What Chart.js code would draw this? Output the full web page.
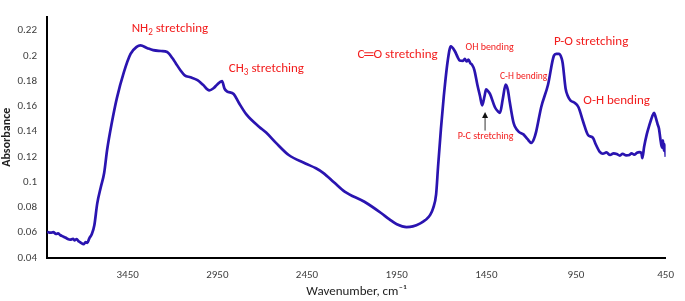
<!DOCTYPE html>
<html>
<head>
<meta charset="utf-8">
<script src="https://cdn.jsdelivr.net/npm/chart.js@4.4.1/dist/chart.umd.min.js"></script>
<style>
  html, body { margin: 0; padding: 0; background: #fff; }
  #wrap { width: 685px; height: 301px; }
</style>
</head>
<body>
<div id="wrap"><canvas id="myChart"></canvas></div>
<script>
// FTIR spectrum, values
const wavenumber = [
  3899, 3880, 3865, 3850, 3839, 3825, 3810, 3795, 3784, 3770, 3755, 3745, 3735, 3722, 3710, 3696,
  3685, 3675, 3664, 3650, 3636, 3620, 3600, 3581, 3565, 3538, 3510, 3472, 3434, 3400, 3379, 3340,
  3308, 3264, 3230, 3200, 3182, 3154, 3132, 3100, 3061, 3030, 2995, 2970, 2952, 2924, 2910, 2897,
  2859, 2831, 2787, 2716, 2678, 2623, 2552, 2459, 2400, 2360, 2300, 2240, 2130, 2037, 1990, 1949,
  1895, 1860, 1818, 1790, 1763, 1747, 1730, 1719, 1703, 1687, 1665, 1648, 1626, 1610, 1599, 1580,
  1570, 1560, 1550, 1539, 1530, 1517, 1500, 1485, 1473, 1460, 1451, 1440, 1429, 1402, 1385, 1374,
  1358, 1342, 1330, 1320, 1300, 1292, 1270, 1243, 1220, 1199, 1185, 1172, 1144, 1106, 1073, 1060,
  1046, 1030, 1024, 1008, 995, 980, 960, 936, 909, 882, 865, 854, 840, 816, 800, 780,
  760, 740, 723, 705, 690, 670, 652, 640, 625, 610, 597, 585, 580, 570, 555, 542,
  525, 515, 505, 495, 487, 480, 471, 465, 460, 455, 449
];
const absorbance = [
  0.0607, 0.0600, 0.0605, 0.0590, 0.0595, 0.0580, 0.0570, 0.0560, 0.0550, 0.0545, 0.0552, 0.0540, 0.0550, 0.0530, 0.0520, 0.0510,
  0.0525, 0.0520, 0.0556, 0.0590, 0.0659, 0.0830, 0.0960, 0.1074, 0.1252, 0.1474, 0.1667, 0.1867, 0.2015, 0.2070, 0.2082, 0.2060,
  0.2045, 0.2038, 0.2030, 0.1980, 0.1941, 0.1882, 0.1845, 0.1830, 0.1808, 0.1770, 0.1726, 0.1745, 0.1771, 0.1800, 0.1740, 0.1719,
  0.1697, 0.1630, 0.1534, 0.1437, 0.1393, 0.1311, 0.1215, 0.1148, 0.1110, 0.1074, 0.1000, 0.0926, 0.0845, 0.0756, 0.0705, 0.0667,
  0.0645, 0.0650, 0.0674, 0.0700, 0.0741, 0.0793, 0.0904, 0.1126, 0.1423, 0.1682, 0.1963, 0.2075, 0.2038, 0.1990, 0.1963, 0.1960,
  0.1975, 0.1955, 0.1970, 0.1941, 0.1930, 0.1889, 0.1771, 0.1680, 0.1608, 0.1680, 0.1734, 0.1720, 0.1697, 0.1593, 0.1560, 0.1549,
  0.1660, 0.1771, 0.1730, 0.1640, 0.1480, 0.1445, 0.1400, 0.1378, 0.1340, 0.1311, 0.1340, 0.1400, 0.1593, 0.1771, 0.2001, 0.2015,
  0.2015, 0.1980, 0.1941, 0.1741, 0.1680, 0.1645, 0.1630, 0.1593, 0.1474, 0.1371, 0.1360, 0.1348, 0.1300, 0.1237, 0.1225, 0.1235,
  0.1215, 0.1228, 0.1223, 0.1210, 0.1225, 0.1212, 0.1215, 0.1228, 0.1218, 0.1232, 0.1237, 0.1230, 0.1190, 0.1280, 0.1380, 0.1445,
  0.1520, 0.1549, 0.1510, 0.1460, 0.1423, 0.1350, 0.1274, 0.1330, 0.1250, 0.1300, 0.1200
];
const xTicks = [3450, 2950, 2450, 1950, 1450, 950, 450];
const yTicks = [0.04, 0.06, 0.08, 0.1, 0.12, 0.14, 0.16, 0.18, 0.2, 0.22];

// band labels: [wavenumber, absorbance, parts, font size]
const bandLabels = [
  [3428, 0.2215, [["NH", 0], ["2", 1], [" stretching", 0]], 13],
  [2886, 0.1897, [["CH", 0], ["3", 1], [" stretching", 0]], 13],
  [2169, 0.2008, [["C\u2550O stretching", 0]], 13],
  [1566, 0.2067, [["OH bending", 0]], 10],
  [1374, 0.1838, [["C-H bending", 0]], 9.5],
  [1073, 0.2112, [["P-O stretching", 0]], 13],
  [909, 0.1645, [["O-H bending", 0]], 13],
  [1610, 0.1363, [["P-C stretching", 0]], 10]
];
const arrowPC = [1457, 0.1408, 0.1556];

const FONT = "Carlito, Lato, 'Open Sans', sans-serif";
const points = wavenumber.map((w, i) => ({ x: w, y: absorbance[i] }));

const labelPlugin = {
  id: "bandLabels",
  afterDatasetsDraw(chart) {
    const ctx = chart.ctx;
    const xs = chart.scales.x, ys = chart.scales.y;
    ctx.save();
    ctx.fillStyle = "#f21d1d";
    ctx.textBaseline = "middle";
    ctx.textAlign = "left";
    bandLabels.forEach(([w, a, parts, size]) => {
      let px = xs.getPixelForValue(w);
      const py = ys.getPixelForValue(a);
      parts.forEach(([t, sub]) => {
        const fs = sub ? size * 0.7 : size;
        ctx.font = fs + "px " + FONT;
        ctx.fillText(t, px, sub ? py + size * 0.28 : py);
        px += ctx.measureText(t).width;
      });
    });
    // arrow to P-C band
    const ax = xs.getPixelForValue(arrowPC[0]);
    const y0 = ys.getPixelForValue(arrowPC[1]);
    const y1 = ys.getPixelForValue(arrowPC[2]);
    ctx.strokeStyle = "#333";
    ctx.fillStyle = "#111";
    ctx.lineWidth = 1;
    ctx.beginPath();
    ctx.moveTo(ax, y0);
    ctx.lineTo(ax, y1 + 4);
    ctx.stroke();
    ctx.beginPath();
    ctx.moveTo(ax, y1);
    ctx.lineTo(ax - 3, y1 + 6);
    ctx.lineTo(ax + 3, y1 + 6);
    ctx.closePath();
    ctx.fill();
    ctx.restore();
  }
};

const ctx = document.getElementById("myChart");
const myChart = new Chart(ctx, {
  type: "scatter",
  data: {
    datasets: [
      {
        data: points,
        showLine: true,
        borderColor: "#2a14b0",
        borderWidth: 2.7,
        pointRadius: 0,
        tension: 0.3,
        cubicInterpolationMode: "monotone",
      },
    ],
  },
  options: {
    responsive: true,
    maintainAspectRatio: false,
    animation: false,
    layout: { padding: 0 },
    plugins: { legend: { display: false }, tooltip: { enabled: false } },
    scales: {
      x: {
        type: "linear",
        reverse: true,
        min: 450,
        max: 3900,
        grid: { display: false, drawTicks: false },
        border: { color: "#000", width: 2 },
        afterBuildTicks: (s) => { s.ticks = xTicks.map((v) => ({ value: v })); },
        afterFit: (s) => { s.height = 43; },
        ticks: {
          padding: 11,
          color: "#404040",
          font: { family: FONT, size: 11 },
          maxRotation: 0,
          autoSkip: false,
          callback: (v) => String(v),
        },
        title: {
          display: true,
          text: "Wavenumber, cm\u207B\u00B9",
          color: "#222",
          font: { family: FONT, size: 13 },
          padding: { top: 0, bottom: 1 },
        },
      },
      y: {
        min: 0.04,
        max: 0.231,
        grid: { display: false, drawTicks: false },
        border: { color: "#000", width: 2 },
        afterBuildTicks: (s) => { s.ticks = yTicks.map((v) => ({ value: v })); },
        afterFit: (s) => { s.width = 47; },
        ticks: {
          padding: 10,
          color: "#404040",
          font: { family: FONT, size: 11 },
          callback: (v) => String(Math.round(v * 100) / 100),
        },
        title: {
          display: true,
          text: "Absorbance",
          color: "#222",
          font: { family: FONT, size: 12, weight: "bold" },
          padding: 0,
        },
      },
    },
  },
  plugins: [labelPlugin],
});
</script>
</body>
</html>
